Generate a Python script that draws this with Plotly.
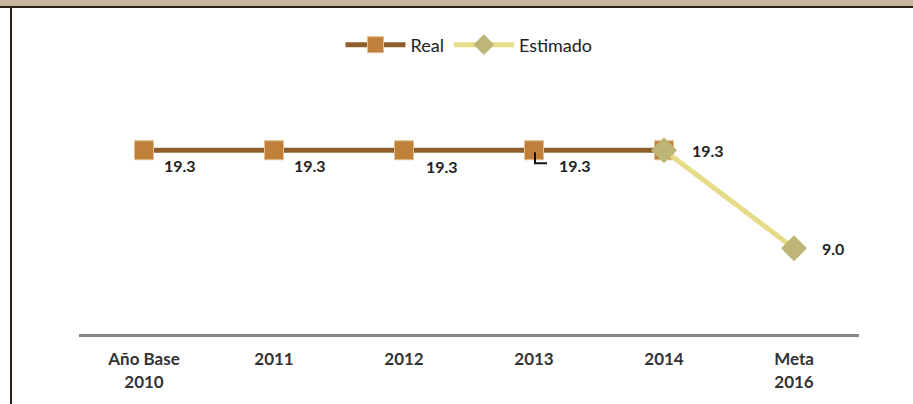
import plotly.graph_objects as go

categories = ["Año Base<br>2010", "2011", "2012", "2013", "2014", "Meta<br>2016"]
real_values = [19.3, 19.3, 19.3, 19.3, 19.3, None]
estimado_values = [None, None, None, None, 19.3, 9.0]

W, H = 913, 404
L, R, T, B = 79, 54, 96, 70
plot_w = W - L - R
plot_h = H - T - B

font_family = "Lato, 'Open Sans', sans-serif"
label_font = {"size": 16, "color": "#222222", "family": font_family, "weight": "bold"}

fig = go.Figure()

fig.add_trace(
    go.Scatter(
        x=categories,
        y=real_values,
        mode="lines+markers",
        name="Real",
        line={"color": "#8E5F2C", "width": 5},
        marker={
            "symbol": "square",
            "size": 19,
            "color": "#C0803A",
            "line": {"color": "#E2BE94", "width": 1},
        },
    )
)

fig.add_trace(
    go.Scatter(
        x=categories,
        y=estimado_values,
        mode="lines+markers",
        name="Estimado",
        line={"color": "#E6DB86", "width": 5},
        marker={"symbol": "diamond", "size": 20, "color": "#BDB676"},
    )
)

# data labels (x given as category index)
label_offsets = [(18, -15), (18, -15), (20, -16), (23, -15), (26, 0)]
for i, (dx, dy) in enumerate(label_offsets):
    fig.add_annotation(
        x=i, y=real_values[i], text=f"{real_values[i]:.1f}",
        showarrow=False, xanchor="left", xshift=dx, yshift=dy, font=label_font,
    )
fig.add_annotation(
    x=5, y=estimado_values[5], text=f"{estimado_values[5]:.1f}",
    showarrow=False, xanchor="left", xshift=26, yshift=0, font=label_font,
)

# small leader line on the 2013 label
fig.add_shape(
    type="path", xref="x", yref="y",
    xsizemode="pixel", ysizemode="pixel", xanchor=3, yanchor=real_values[3],
    path="M 1 -2 L 1 -13 L 13 -13",
    line={"color": "#111111", "width": 2},
)

# top band and left border
fig.add_shape(
    type="rect", xref="paper", yref="paper",
    x0=-L / plot_w, x1=(W - L) / plot_w,
    y0=(H - B - 6.5) / plot_h, y1=(H - B + 2) / plot_h,
    fillcolor="#C8B59C", line={"width": 0}, layer="below",
)
fig.add_shape(
    type="line", xref="paper", yref="paper",
    x0=-L / plot_w, x1=(W - L) / plot_w,
    y0=(H - B - 7) / plot_h, y1=(H - B - 7) / plot_h,
    line={"color": "#2A2018", "width": 2},
)
fig.add_shape(
    type="line", xref="paper", yref="paper",
    x0=(11 - L) / plot_w, x1=(11 - L) / plot_w,
    y0=-(B + 2) / plot_h, y1=(H - B - 7) / plot_h,
    line={"color": "#2A2018", "width": 2},
)

fig.update_layout(
    width=W,
    height=H,
    margin={"l": L, "r": R, "t": T, "b": B},
    paper_bgcolor="white",
    plot_bgcolor="white",
    showlegend=True,
    legend={
        "orientation": "h",
        "x": 0.5,
        "xanchor": "center",
        "y": (H - B - 45) / plot_h,
        "yanchor": "middle",
        "font": {"size": 18, "color": "#222222", "family": font_family},
        "itemwidth": 60,
    },
    xaxis={
        "type": "category",
        "showgrid": False,
        "showline": True,
        "linecolor": "#868686",
        "linewidth": 3,
        "ticks": "",
        "ticklabelstandoff": 8,
        "tickfont": {"size": 17, "color": "#333333", "family": font_family, "weight": "bold"},
        "range": [-0.5, 5.5],
    },
    yaxis={
        "range": [0, 25],
        "visible": False,
        "showgrid": False,
        "zeroline": False,
    },
)

fig.write_html(
    "out.html",
    config={"displayModeBar": False},
    post_script="document.body.style.margin='0';",
)
